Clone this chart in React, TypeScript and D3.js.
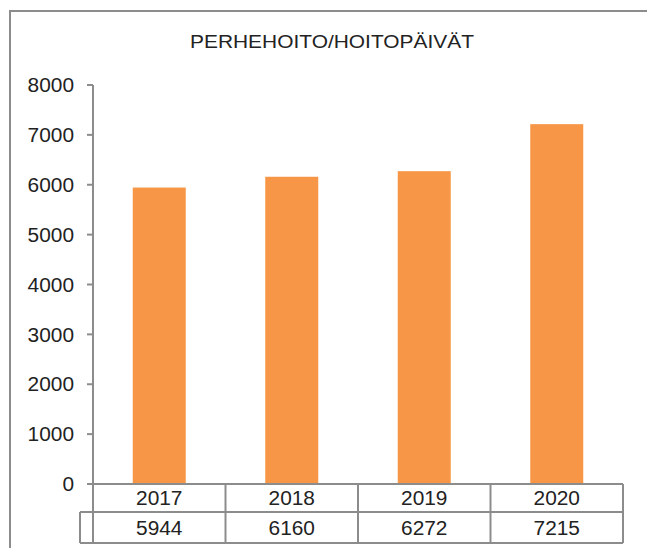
import React, { useEffect, useRef } from 'react';
import * as d3 from 'd3';

const title = 'PERHEHOITO/HOITOPÄIVÄT';
const years = ['2017', '2018', '2019', '2020'];
const values = [5944, 6160, 6272, 7215];
const yTicks = [0, 1000, 2000, 3000, 4000, 5000, 6000, 7000, 8000];

function App() {
  const ref = useRef<any>(null);
  const dims = { width: 647, height: 548 };

  useEffect(() => {
    const svg = d3.select(ref.current);
    svg.selectAll('*').remove();
    const grey = '#8c8c8c';
    const font = 'Liberation Sans, Arial, sans-serif';
    // digits in the original are a bit wider than plain Arial
    const digitW = 11.6;

    // outer frame
    svg
      .append('rect')
      .attr('x', 10)
      .attr('y', 11)
      .attr('width', 700)
      .attr('height', 600)
      .attr('fill', 'white')
      .attr('stroke', grey)
      .attr('stroke-width', 2);

    svg
      .append('text')
      .attr('x', 332)
      .attr('y', 48)
      .attr('text-anchor', 'middle')
      .attr('font-family', font)
      .attr('font-size', 18)
      .attr('textLength', 284)
      .attr('lengthAdjust', 'spacingAndGlyphs')
      .attr('fill', '#222')
      .text(title);

    const x = d3.scaleBand().domain(years).range([93, 623]).padding(0);
    const y = d3.scaleLinear().domain([0, 8000]).range([484, 85]);

    const barW = x.bandwidth() * 0.4;
    svg
      .selectAll('rect.bar')
      .data(values)
      .enter()
      .append('rect')
      .attr('class', 'bar')
      .attr('x', (d, i) => (x(years[i]) as number) + (x.bandwidth() - barW) / 2)
      .attr('y', (d) => y(d))
      .attr('width', barW)
      .attr('height', (d) => y(0) - y(d))
      .attr('fill', '#f79646');

    const label = (g: any, tx: number, ty: number, s: string, anchor: string) =>
      g.append('text')
        .attr('x', tx)
        .attr('y', ty)
        .attr('dy', '0.36em')
        .attr('text-anchor', anchor)
        .attr('font-family', font)
        .attr('font-size', 20)
        .attr('textLength', s.length * digitW)
        .attr('lengthAdjust', 'spacingAndGlyphs')
        .attr('fill', '#222')
        .text(s);

    // y axis
    const ax = svg.append('g');
    ax.append('line')
      .attr('x1', 93)
      .attr('x2', 93)
      .attr('y1', y(8000))
      .attr('y2', 543)
      .attr('stroke', grey)
      .attr('stroke-width', 2);
    yTicks.forEach((t) => {
      ax.append('line')
        .attr('x1', 87)
        .attr('x2', 93)
        .attr('y1', y(t))
        .attr('y2', y(t))
        .attr('stroke', grey)
        .attr('stroke-width', 2);
      label(ax, 74, y(t), String(t), 'end');
    });

    // data table
    const row1 = 484;
    const row2 = 512;
    const row3 = 543;
    const tb = svg.append('g').attr('stroke', grey).attr('stroke-width', 2);
    tb.append('line').attr('x1', 87).attr('x2', 623).attr('y1', row1).attr('y2', row1);
    tb.append('line').attr('x1', 80).attr('x2', 623).attr('y1', row2).attr('y2', row2);
    tb.append('line').attr('x1', 80).attr('x2', 623).attr('y1', row3).attr('y2', row3);
    tb.append('line').attr('x1', 80).attr('x2', 80).attr('y1', row2).attr('y2', row3);
    years.forEach((yr) => {
      const xr = (x(yr) as number) + x.bandwidth();
      tb.append('line').attr('x1', xr).attr('x2', xr).attr('y1', row1).attr('y2', row3);
    });

    const txt = svg.append('g');
    years.forEach((yr, i) => {
      const cx = (x(yr) as number) + x.bandwidth() / 2;
      label(txt, cx, (row1 + row2) / 2, yr, 'middle');
      label(txt, cx, (row2 + row3) / 2, String(values[i]), 'middle');
    });
  }, []);

  return (
    <div style={{ position: 'absolute', left: 0, top: 0 }}>
      <svg ref={ref} width={dims.width} height={dims.height} style={{ display: 'block' }}></svg>
    </div>
  );
}

export default App;
